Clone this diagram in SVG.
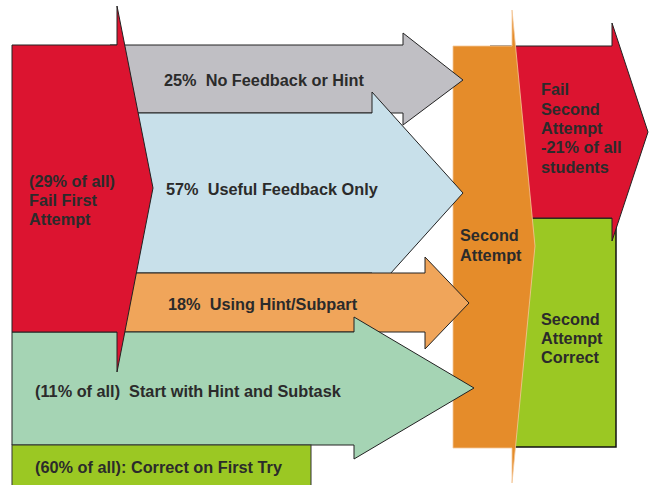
<svg xmlns="http://www.w3.org/2000/svg" width="652" height="485" viewBox="0 0 652 485">
<style>
.s{stroke:#222;stroke-width:1;stroke-linejoin:miter}
text{font-family:"Liberation Sans",Arial,sans-serif;font-weight:bold;font-size:16.3px;fill:#2b2b2b;white-space:pre}
</style>
<rect width="652" height="485" fill="#fff"/>
<g id="correct2">
<rect x="500" y="218" width="116" height="229" fill="#9bc823" stroke="#111" stroke-width="1.5"/>
<text x="541" y="325">Second</text><text x="541" y="344">Attempt</text><text x="541" y="363">Correct</text>
</g>
<g id="fail2">
<path class="s" d="M490,46 L612,46 L612,23 L648,132 L612,241 L612,218 L490,218 Z" fill="#dc1430"/>
<text x="541" y="95">Fail</text><text x="541" y="115">Second</text><text x="541" y="134">Attempt</text><text x="541" y="153">-21% of all</text><text x="541" y="173">students</text>
</g>
<g id="second">
<path d="M453,46 L512,46 L512,10 L535,246 L512,483 L512,448 L453,448 Z" fill="#e58c2a" stroke="#f4c89a" stroke-width="0.8"/>
<text x="460" y="241">Second</text><text x="460" y="261">Attempt</text>
</g>
<g id="connectors">
<g id="nofeedback">
<path class="s" d="M110,45 L403,45 L403,33 L463,80 L403,125 L403,113 L110,113 Z" fill="#c0bfc4"/>
</g>
<g id="useful">
<path class="s" d="M110,113 L372,113 L372,92 L463,193 L372,294 L372,273 L110,273 Z" fill="#c8e0ea"/>
</g>
<g id="hint">
<path class="s" d="M110,273 L425,273 L425,257 L469,303 L425,349 L425,332 L110,332 Z" fill="#f0a55a"/>
</g>
<g id="start">
<path class="s" d="M12,332 L354,332 L354,317 L474,388 L354,459 L354,445 L12,445 Z" fill="#a5d4b4" stroke="#555"/>
</g>
</g>
<g id="fail1">
<path class="s" d="M12,45 L117,45 L117,6 L153,188 L117,372 L117,332 L12,332 Z" fill="#dc1430" stroke-width="1.2"/>
<text x="29" y="187">(29% of all)</text><text x="29" y="206">Fail First</text><text x="29" y="225">Attempt</text>
</g>
<g id="labels">
<text x="164" y="86" xml:space="preserve">25%  No Feedback or Hint</text>
<text x="166" y="195" xml:space="preserve">57%  Useful Feedback Only</text>
<text x="168" y="310" xml:space="preserve">18%  Using Hint/Subpart</text>
<text x="35" y="397" xml:space="preserve">(11% of all)  Start with Hint and Subtask</text>
</g>
<g id="correct1">
<rect x="12" y="445" width="299" height="45" fill="#9bc823" stroke="#333" stroke-width="1"/>
<text x="35" y="473">(60% of all): Correct on First Try</text>
</g>
</svg>
